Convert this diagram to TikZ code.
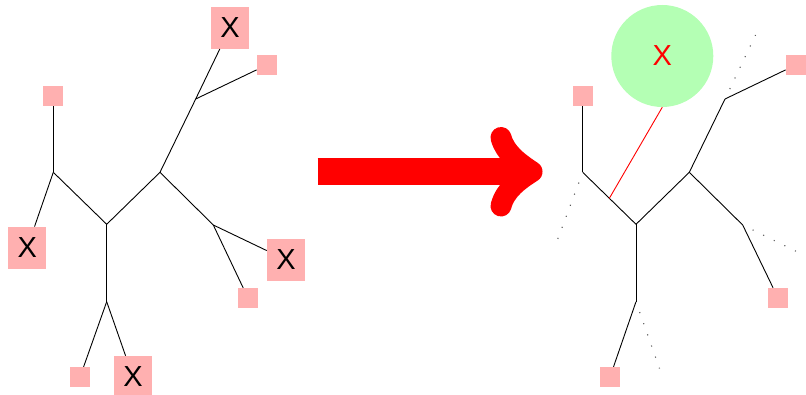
\documentclass[tikz,border=0pt]{standalone}
\usepackage{fontspec}
\setmainfont{Liberation Sans}
\usetikzlibrary{calc}
\definecolor{leafpink}{RGB}{255,176,176}
\definecolor{regraft}{RGB}{180,255,180}
\tikzset{
  branch/.style={line width=0.9pt, black},
  lostbranch/.style={line width=1.1pt, black!65, dash pattern=on 1.1pt off 10.7pt, shorten <=11pt},
  graftline/.style={line width=0.9pt, red},
  leaf/.style={fill=leafpink, minimum size=20pt, inner sep=0pt},
  taxon/.style={fill=leafpink, minimum width=38pt, minimum height=42pt, inner sep=0pt, font=\fontsize{29}{30}\selectfont},
  newtaxon/.style={circle, fill=regraft, minimum size=102pt, inner sep=0pt, text=red, font=\fontsize{29}{30}\selectfont},
  bigarrow/.style={red, line width=26.7pt},
  bighead/.style={red, line width=21pt, line cap=round, line join=round}
}

\begin{document}
\begin{tikzpicture}[x=1pt, y=-1pt]
  \useasboundingbox (0,0) rectangle (806,395);

  % tree before pruning
  \coordinate (lA) at (106.7,224.3);
  \coordinate (lB) at (106.7,301.7);
  \coordinate (lC) at (53.3,172.3);
  \coordinate (lD) at (160,172.3);
  \coordinate (lE) at (195.7,99);
  \coordinate (lF) at (213.3,225);
  \node[leaf] (l-s1) at (53.3,96) {};
  \node[taxon] (l-x1) at (27.2,247.8) {X};
  \node[taxon] (l-x2) at (230,27.8) {X};
  \node[leaf] (l-s2) at (266.8,65) {};
  \node[taxon] (l-x3) at (286,259.8) {X};
  \node[leaf] (l-s3) at (248,298) {};
  \node[leaf] (l-s4) at (80,377) {};
  \node[taxon] (l-x4) at (133,377) {X};
  \draw[branch] (lA) -- (lB);
  \draw[branch] (lA) -- (lC);
  \draw[branch] (lA) -- (lD);
  \draw[branch] (lD) -- (lE);
  \draw[branch] (lD) -- (lF);
  \draw[branch] (lC) -- (l-s1);
  \draw[branch] (lC) -- (l-x1);
  \draw[branch] (lE) -- (l-x2);
  \draw[branch] (lE) -- (l-s2);
  \draw[branch] (lF) -- (l-x3);
  \draw[branch] (lF) -- (l-s3);
  \draw[branch] (lB) -- (l-s4);
  \draw[branch] (lB) -- (l-x4);

  % arrow
  \coordinate (arr-tail) at (317.7,171.7);
  \coordinate (arr-tip) at (532,171.7);
  \draw[bigarrow] (arr-tail) -- ($(arr-tip)+(-8,0)$);
  \draw[bighead] (501,137.5) .. controls (505,153) and (519,163) .. (arr-tip)
                 .. controls (519,180) and (505,190) .. (501,206);

  % tree after pruning and regrafting
  \coordinate (rA) at (636,224.3);
  \coordinate (rB) at (636,301.7);
  \coordinate (rC) at (582.7,172.3);
  \coordinate (rD) at (689.3,172.3);
  \coordinate (rE) at (725,99);
  \coordinate (rF) at (742.7,225);
  \coordinate (r-gone1) at (557.6,239.5);
  \coordinate (r-gone2) at (755.5,35);
  \coordinate (r-gone3) at (796.5,251.5);
  \coordinate (r-gone4) at (659.5,368.5);
  \node[leaf] (r-s1) at (582.7,96) {};
  \node[leaf] (r-s2) at (795.8,65) {};
  \node[leaf] (r-s3) at (778,298) {};
  \node[leaf] (r-s4) at (610,377) {};
  \node[newtaxon] (r-x) at (662.3,56) {X};
  \draw[branch] (rA) -- (rB);
  \draw[branch] (rA) -- (rC);
  \draw[branch] (rA) -- (rD);
  \draw[branch] (rD) -- (rE);
  \draw[branch] (rD) -- (rF);
  \draw[branch] (rC) -- (r-s1);
  \draw[branch] (rE) -- (r-s2);
  \draw[branch] (rF) -- (r-s3);
  \draw[branch] (rB) -- (r-s4);
  \draw[lostbranch] (rC) -- (r-gone1);
  \draw[lostbranch] (rE) -- (r-gone2);
  \draw[lostbranch] (rF) -- (r-gone3);
  \draw[lostbranch] (rB) -- (r-gone4);
  \draw[graftline] ($(rC)!0.5!(rA)$) -- (r-x.south);
\end{tikzpicture}
\end{document}
